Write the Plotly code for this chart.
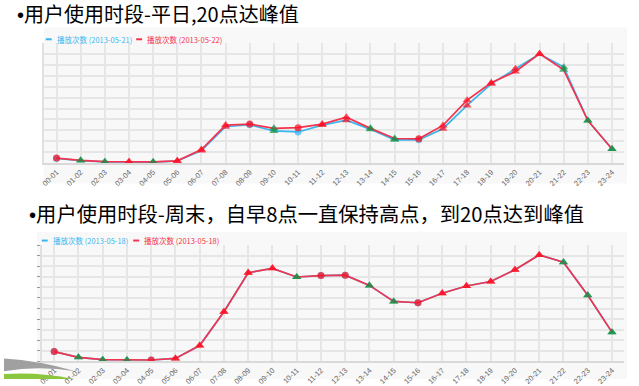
import plotly.graph_objects as go

W, H = 639, 386

# ---------------- data ----------------
hours = ["00-01", "01-02", "02-03", "03-04", "04-05", "05-06", "06-07", "07-08",
         "08-09", "09-10", "10-11", "11-12", "12-13", "13-14", "14-15", "15-16",
         "16-17", "17-18", "18-19", "19-20", "20-21", "21-22", "22-23", "23-24"]

weekday_0521 = [0.42, 0.22, 0.10, 0.08, 0.08, 0.18, 1.15, 3.33, 3.51, 2.94, 2.85, 3.48,
                3.93, 3.09, 2.13, 2.13, 3.15, 5.28, 7.27, 8.65, 10.0, 8.80, 3.90, 1.29]
weekday_0522 = [0.45, 0.24, 0.12, 0.12, 0.10, 0.20, 1.23, 3.48, 3.57, 3.18, 3.24, 3.57,
                4.20, 3.18, 2.25, 2.22, 3.45, 5.77, 7.36, 8.40, 10.03, 8.56, 3.90, 1.29]
weekend_0518 = [0.90, 0.35, 0.13, 0.10, 0.10, 0.25, 1.47, 4.70, 8.40, 8.82, 8.00, 8.13,
                8.17, 7.20, 5.67, 5.55, 6.45, 7.14, 7.57, 8.69, 10.10, 9.41, 6.26, 2.75]

# marker kind per point: "c" flat (circle), "u" up (red triangle), "d" down (green triangle)
weekday_marks = ["c", "d", "d", "u", "d", "u", "u", "u", "c", "d", "c", "u",
                 "u", "d", "d", "c", "u", "u", "u", "u", "u", "d", "d", "d"]
weekend_marks = ["c", "d", "d", "d", "c", "u", "u", "u", "u", "u", "d", "c",
                 "c", "d", "d", "c", "u", "u", "u", "u", "u", "d", "d", "d"]

title_texts = ["用户使用时段-平日,20点达峰值",
               "用户使用时段-周末，自早8点一直保持高点，到20点达到峰值"]
names_top = ["播放次数 (2013-05-21)", "播放次数 (2013-05-22)"]
names_bot = ["播放次数 (2013-05-18)", "播放次数 (2013-05-18)"]

# ---------------- style ----------------
BLUE = "#3ab6ee"
RED = "#f4344e"
MRED = "#ff0a1e"
MGREEN = "#0f8f45"
GRID = "#e6e6e6"
PANEL = "#f8f8f8"
CJK = "Noto Sans CJK SC"


def px(x):
    return x / W


def py(y):
    return 1 - y / H


def marker_style(marks, base_color=None):
    sym, col, size = [], [], []
    for m in marks:
        if m == "c":
            sym.append("circle"); size.append(7)
            col.append(base_color if base_color else MRED)
        elif m == "u":
            sym.append("triangle-up"); size.append(8); col.append(MRED)
        else:
            sym.append("triangle-up"); size.append(8); col.append(MGREEN)
    return dict(symbol=sym, color=col, size=size, line=dict(width=0))


fig = go.Figure()

# top chart (weekday)
fig.add_trace(go.Scatter(x=hours, y=weekday_0521, mode="lines+markers", name=names_top[0],
                         line=dict(color=BLUE, width=1.7),
                         marker=marker_style(weekday_marks, BLUE),
                         showlegend=False, xaxis="x", yaxis="y"))
fig.add_trace(go.Scatter(x=hours, y=weekday_0522, mode="lines+markers", name=names_top[1],
                         line=dict(color=RED, width=1.7),
                         marker=marker_style(weekday_marks),
                         showlegend=False, xaxis="x", yaxis="y"))
# bottom chart (weekend)
fig.add_trace(go.Scatter(x=hours, y=weekend_0518, mode="lines+markers", name=names_bot[0],
                         line=dict(color=BLUE, width=1.7),
                         marker=marker_style(weekend_marks, BLUE),
                         showlegend=False, xaxis="x2", yaxis="y2"))
fig.add_trace(go.Scatter(x=hours, y=weekend_0518, mode="lines+markers", name=names_bot[1],
                         line=dict(color=RED, width=1.7),
                         marker=marker_style(weekend_marks),
                         showlegend=False, xaxis="x2", yaxis="y2"))

xcommon = dict(type="category", categoryorder="array", categoryarray=hours,
               range=[-0.5, 23.5], showgrid=True, gridcolor=GRID, gridwidth=1.5,
               showline=True, linecolor="#d9d9d9", linewidth=2, ticks="",
               tickangle=-45, tickfont=dict(size=7.5, color="#666666", family="Arial"),
               zeroline=False, fixedrange=True)
ycommon = dict(range=[0, 11], dtick=1, tick0=0, showgrid=True, gridcolor=GRID,
               gridwidth=1.5, showline=True, linecolor="#e0e0e0", linewidth=1.5,
               showticklabels=False, zeroline=False, fixedrange=True)

fig.update_layout(
    width=W, height=H, margin=dict(l=0, r=0, t=0, b=0),
    paper_bgcolor="white", plot_bgcolor=PANEL, showlegend=False,
    xaxis=dict(domain=[px(40.7), px(624)], anchor="y", **xcommon),
    yaxis=dict(domain=[py(166), py(44)], anchor="x", ticks="", **ycommon),
    xaxis2=dict(domain=[px(38.3), px(624)], anchor="y2", **xcommon),
    yaxis2=dict(domain=[py(367.7), py(250)], anchor="x2", ticks="outside", ticklen=3,
                tickcolor="#999999", tickwidth=1, **ycommon),
    font=dict(family=CJK),
)

# panel backgrounds
fig.add_shape(type="rect", xref="paper", yref="paper", x0=px(40), x1=px(627),
              y0=py(187), y1=py(28), fillcolor=PANEL, line=dict(width=0), layer="below")
fig.add_shape(type="rect", xref="paper", yref="paper", x0=px(33), x1=px(627),
              y0=py(386), y1=py(236), fillcolor=PANEL, line=dict(width=0), layer="below")

# titles (bullet in a Latin font so it sits tight against the text)
bullet = "<span style='font-family:Liberation Sans'>•</span>"
fig.add_annotation(text=bullet + title_texts[0], xref="paper", yref="paper",
                   x=px(12), y=py(14), xanchor="left", yanchor="middle", showarrow=False,
                   borderpad=0,
                   font=dict(size=20, color="black", family=CJK))
fig.add_annotation(text=bullet + title_texts[1], xref="paper", yref="paper",
                   x=px(24), y=py(217), xanchor="left", yanchor="middle", showarrow=False,
                   borderpad=0,
                   font=dict(size=20.3, color="black", family=CJK))

# legends (short colored dash + colored label)
def legend_row(names, x_starts, y):
    for nm, c, x0 in zip(names, [BLUE, RED], x_starts):
        fig.add_shape(type="line", xref="paper", yref="paper", x0=px(x0), x1=px(x0 + 6),
                      y0=py(y), y1=py(y), line=dict(color=c, width=2))
        fig.add_annotation(text=nm, xref="paper", yref="paper", x=px(x0 + 9), y=py(y),
                           xanchor="left", yanchor="middle", showarrow=False,
                           font=dict(size=7.5, color=c, family=CJK))


legend_row(names_top, [42, 133], 40)
legend_row(names_bot, [38, 130], 245)

# slide template swooshes (bottom-left)
gray = (f"M {px(0)},{py(365)} Q {px(35)},{py(367)} {px(72)},{py(378)} "
        f"Q {px(35)},{py(372)} {px(0)},{py(378)} Z")
green = (f"M {px(0)},{py(381)} Q {px(35)},{py(378.5)} {px(70)},{py(386)} "
         f"L {px(0)},{py(386)} Z")
fig.add_shape(type="path", xref="paper", yref="paper", path=gray,
              fillcolor="#a0a0a0", line=dict(width=0), layer="above")
fig.add_shape(type="path", xref="paper", yref="paper", path=green,
              fillcolor="#8cc63f", line=dict(width=0), layer="above")

# remove the browser's default body margin so the figure fills the window exactly
fig.write_html("out.html",
               config={"displayModeBar": False},
               post_script="document.body.style.margin='0px';"
                           "document.body.style.overflow='hidden';")
